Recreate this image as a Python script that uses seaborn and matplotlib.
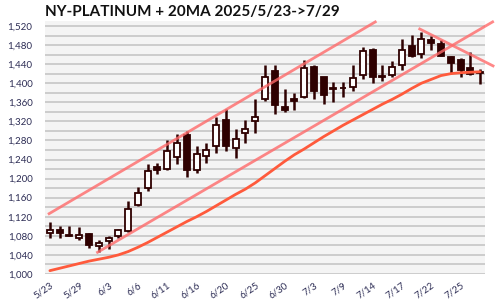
import matplotlib
matplotlib.use("Agg")
import matplotlib.pyplot as plt
import seaborn as sns
import numpy as np
import pandas as pd

# ---- data ----
dates = ["5/23","5/27","5/28","5/29","5/30","6/2","6/3","6/4","6/5","6/6",
         "6/9","6/10","6/11","6/12","6/13","6/16","6/17","6/18","6/20","6/23",
         "6/24","6/25","6/26","6/27","6/30","7/1","7/2","7/3","7/7","7/8",
         "7/9","7/10","7/11","7/14","7/15","7/16","7/17","7/18","7/21","7/22",
         "7/23","7/24","7/25","7/28","7/29"]
opens  = [1086,1093,1082,1076,1083,1058,1069,1079,1091,1144,
          1180,1225,1221,1246,1292,1217,1247,1268,1322,1265,
          1295,1321,1366,1426,1350,1367,1372,1434,1412,1387,
          1391,1393,1417,1470,1415,1417,1439,1479,1462,1490,
          1483,1455,1448,1432,1424]
highs  = [1108,1101,1101,1098,1085,1072,1080,1094,1153,1183,
          1230,1232,1280,1293,1300,1268,1275,1330,1345,1303,
          1322,1366,1439,1439,1387,1380,1448,1439,1413,1403,
          1403,1439,1475,1473,1439,1446,1493,1502,1508,1500,
          1490,1457,1453,1465,1430]
lows   = [1075,1075,1079,1071,1055,1047,1052,1075,1089,1142,
          1174,1210,1219,1231,1204,1211,1233,1254,1257,1244,
          1275,1296,1363,1336,1339,1343,1370,1366,1357,1361,
          1371,1383,1409,1400,1404,1412,1428,1455,1453,1469,
          1456,1421,1414,1418,1398]
closes = [1092,1086,1080,1081,1060,1064,1075,1092,1137,1170,
          1215,1217,1258,1275,1217,1252,1261,1313,1268,1284,
          1305,1330,1413,1355,1344,1362,1432,1383,1375,1391,
          1389,1411,1467,1412,1413,1433,1470,1458,1492,1484,
          1458,1442,1427,1420,1422]
ma20   = [1007,1012,1017,1022,1027,1031,1035,1040,1047,1056,
          1066,1077,1088,1099,1110,1120,1131,1143,1155,1167,
          1178,1191,1206,1221,1236,1250,1262,1275,1288,1300,
          1312,1323,1334,1345,1356,1366,1377,1389,1400,1408,
          1416,1420,1422,1423,1424]
# trend lines: (index, price) endpoints
upper_line_x = [-0.2, 33.4]
upper_line_y = [1125, 1530]
lower_line_x = [4.75, 45.4]
lower_line_y = [1044, 1530]
down_line_x  = [37.7, 45.45]
down_line_y  = [1515, 1435]
title = "NY-PLATINUM + 20MA 2025/5/23->7/29"
label_every = 3

df = pd.DataFrame({"idx": np.arange(len(dates)), "date": dates, "open": opens,
                   "high": highs, "low": lows, "close": closes, "ma": ma20})

sns.set_theme(style="white")
plt.rcParams['font.family'] = ['Lato', 'DejaVu Sans']

DARK = "#2e0000"
TXT = "#2d2d55"
fig = plt.figure(figsize=(5, 3), dpi=100)
ax = fig.add_axes([0.09, 1 - 274/300, 0.88, (274 - 21.2)/300])
ax.set_facecolor("#f4f4f4")
for s in ax.spines.values():
    s.set_visible(False)

ax.set_xlim(-0.5, len(dates) - 0.5)
ax.set_ylim(1000, 1530)
ax.set_yticks(np.arange(1000, 1521, 40))
ax.set_yticks(np.arange(1000, 1530, 20), minor=True)
ax.set_yticklabels([f"{v:,}" for v in np.arange(1000, 1521, 40)])
ax.grid(True, which="both", axis="y", color="#c9c9c9", lw=1.3, zorder=0)
ax.grid(False, axis="x")
ax.set_axisbelow(True)

ticks = df["idx"][::label_every]
ax.set_xticks(ticks)
ax.set_xticklabels(df["date"][::label_every], rotation=35, ha="right",
                   va="top", rotation_mode="anchor")
ax.tick_params(axis="both", which="both", length=0, labelsize=7, colors=TXT)
ax.tick_params(axis="y", pad=9)
ax.tick_params(axis="x", pad=5)

# candles
up = df["close"] >= df["open"]
ax.vlines(df["idx"], df["low"], df["high"], color=DARK, lw=1.8, zorder=2)
body_bottom = np.minimum(df["open"], df["close"])
body_h = np.maximum(np.abs(df["close"] - df["open"]), 1.5)
ax.bar(df["idx"], body_h, bottom=body_bottom, width=0.62,
       color=np.where(up, "white", DARK), edgecolor=DARK, linewidth=1.3, zorder=3)

# MA line
sns.lineplot(data=df, x="idx", y="ma", ax=ax, color="#ff5a3c", lw=2.0, zorder=4)
ax.set_xlabel("")
ax.set_ylabel("")

# trend lines
for xs, ys in [(upper_line_x, upper_line_y), (lower_line_x, lower_line_y),
               (down_line_x, down_line_y)]:
    ax.plot(xs, ys, color="#ff6a6a", lw=2.0, alpha=0.8, zorder=5,
            clip_on=False, solid_capstyle="butt")

fig.text(45/500, 1 - 12/300, title, fontsize=11, fontweight="bold",
         color="#111111", va="center", ha="left")

fig.savefig("out.png", dpi=100, facecolor="white")
